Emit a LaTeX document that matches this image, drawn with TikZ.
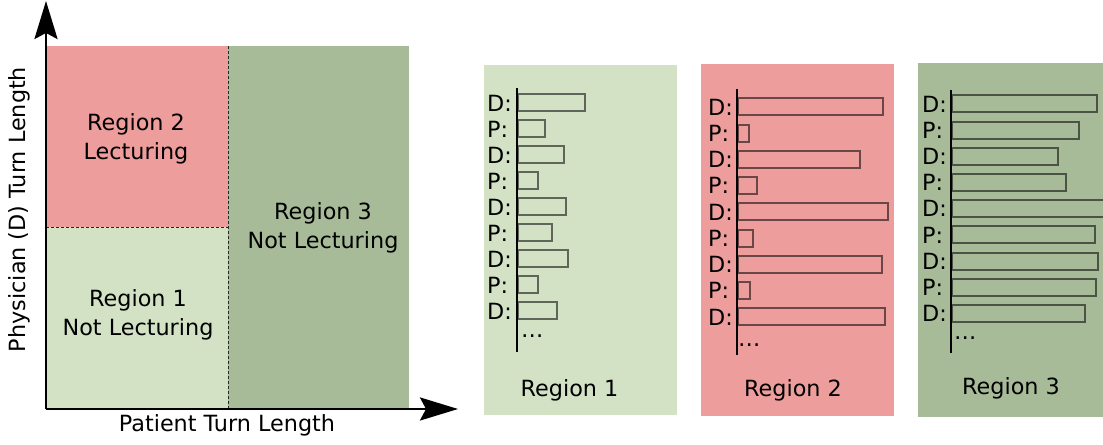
\documentclass[tikz,border=0pt]{standalone}
\usepackage{fontspec}
\setmainfont{DejaVu Sans}
\usetikzlibrary{arrows.meta}
\definecolor{regiongreen}{RGB}{211,226,197}
\definecolor{regionred}{RGB}{238,157,157}
\definecolor{regiondark}{RGB}{168,187,152}
\begin{document}
\begin{tikzpicture}
[x=1bp, y=-1bp, font=\fontsize{22.4}{28.5}\selectfont,
 regiontext/.style={align=center, inner sep=0pt},
 turnlabel/.style={anchor=west, inner sep=0pt},
 turnbar/.style={draw=black, draw opacity=0.55, line width=2bp},
 turnaxis/.style={line width=1.5bp},
 axisarrow/.style={line width=2.8bp, -{Stealth[length=38bp, width=23bp, inset=6bp]}},
 divider/.style={dash pattern=on 3bp off 2bp, line width=0.9bp, black!85}]
\useasboundingbox (0,0) rectangle (1103,445);
\fill[regiongreen] (46,227) rectangle (228,409);
\fill[regionred] (46,46) rectangle (228,227);
\fill[regiondark] (228,46) rectangle (409,409);
\draw[divider] (46,227) -- (228,227);
\draw[divider] (228,46) -- (228,409);
\coordinate (origin) at (46,409);
\coordinate (ytip) at (46,1);
\coordinate (xtip) at (458,409);
\draw[axisarrow] (origin) -- (ytip);
\draw[axisarrow] (origin) -- (xtip);
\node[regiontext] (r2) at (136,139) {Region 2\\Lecturing};
\node[regiontext] (r1) at (138,315) {Region 1\\Not Lecturing};
\node[regiontext] (r3) at (323,228) {Region 3\\Not Lecturing};
\node[inner sep=0pt] (xlabel) at (227,425) {Patient Turn Length};
\node[inner sep=0pt, rotate=90] (ylabel) at (19.5,209.5) {Physician (D) Turn Length};
\fill[regiongreen] (484,65) rectangle (677,415);
\draw[turnaxis] (517,88) -- (517,352);
\foreach \t/\w [count=\i] in {D/586,P/546,D/565,P/539,D/567,P/553,D/569,P/539,D/558}
{
\node[turnlabel] (a\i) at (487,{103+26*(\i-1)}) {\t:};
\draw[turnbar] (518,{103+26*(\i-1)-8.5}) rectangle (\w-1,{103+26*(\i-1)+8.5});
}
\node[anchor=base west, inner sep=0pt] (adots) at (521,338) {…};
\node[inner sep=0pt] (atitle) at (569.5,390) {Region 1};
\fill[regionred] (701,64) rectangle (894,416);
\draw[turnaxis] (737,89) -- (737,355);
\foreach \t/\w [count=\i] in {D/884,P/750,D/861,P/758,D/889,P/754,D/883,P/751,D/886}
{
\node[turnlabel] (b\i) at (708,{107+26.25*(\i-1)}) {\t:};
\draw[turnbar] (738,{107+26.25*(\i-1)-8.5}) rectangle (\w-1,{107+26.25*(\i-1)+8.5});
}
\node[anchor=base west, inner sep=0pt] (bdots) at (738,347) {…};
\node[inner sep=0pt] (btitle) at (793,390) {Region 2};
\fill[regiondark] (918,63) rectangle (1105,417);
\draw[turnaxis] (951,90) -- (951,353);
\foreach \t/\w [count=\i] in {D/1098,P/1080,D/1059,P/1067,D/1108,P/1096,D/1099,P/1097,D/1086}
{
\node[turnlabel] (c\i) at (922,{104+26.2*(\i-1)}) {\t:};
\draw[turnbar] (952,{104+26.2*(\i-1)-8.5}) rectangle (\w-1,{104+26.2*(\i-1)+8.5});
}
\node[anchor=base west, inner sep=0pt] (cdots) at (954,340) {…};
\node[inner sep=0pt] (ctitle) at (1011,388) {Region 3};
\end{tikzpicture}
\end{document}
